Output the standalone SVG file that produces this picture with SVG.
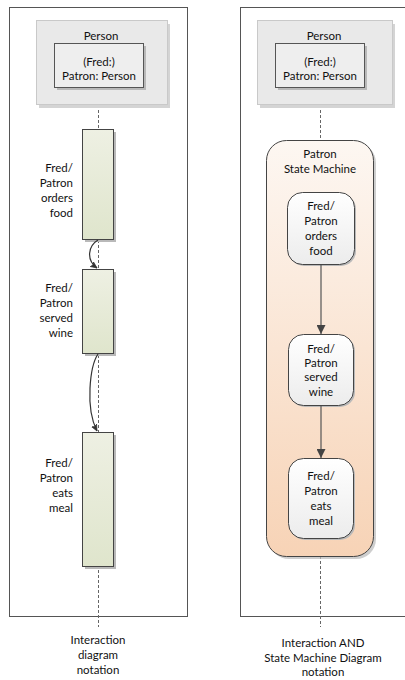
<svg xmlns="http://www.w3.org/2000/svg" width="405" height="680" viewBox="0 0 405 680">
  <defs>
    <linearGradient id="barFill" x1="0" y1="0" x2="0" y2="1">
      <stop offset="0" stop-color="#eef0e3"/>
      <stop offset="1" stop-color="#dfe5cc"/>
    </linearGradient>
    <linearGradient id="smFill" x1="0" y1="0" x2="0" y2="1">
      <stop offset="0" stop-color="#fdf7f2"/>
      <stop offset="1" stop-color="#f7d3b6"/>
    </linearGradient>
    <linearGradient id="stateFill" x1="0" y1="0" x2="0" y2="1">
      <stop offset="0" stop-color="#ffffff"/>
      <stop offset="1" stop-color="#ececec"/>
    </linearGradient>
    <marker id="arrowOpen" viewBox="0 0 10 10" refX="9" refY="5" markerWidth="7" markerHeight="7" orient="auto" markerUnits="userSpaceOnUse">
      <path d="M0,1 L9,5 L0,9 L2,5 Z" fill="#333" stroke="#333" stroke-width="1"/>
    </marker>
    <marker id="arrowSolid" viewBox="0 0 10 10" refX="10" refY="5" markerWidth="9" markerHeight="9" orient="auto" markerUnits="userSpaceOnUse">
      <path d="M0,0 L10,5 L0,10 Z" fill="#444"/>
    </marker>
  </defs>
  <style>
    text { font-family: "Lato", "Liberation Sans", sans-serif; font-size: 11.5px; fill: #111; }
    .mid { text-anchor: middle; }
    .end { text-anchor: end; }
    .frame { fill: #ffffff; stroke: #555; stroke-width: 1; }
    .outer { fill: #e9e9e9; stroke: #c9c9c9; stroke-width: 1; }
    .outerShadow { fill: #d4d4d4; }
    .inner { fill: #eeeeee; stroke: #555; stroke-width: 1; }
    .shadow { fill: #b9b9b9; }
    .lifeline { stroke: #666; stroke-width: 1; stroke-dasharray: 3 2; fill: none; }
    .bar { fill: url(#barFill); stroke: #444; stroke-width: 1; }
    .msg { fill: none; stroke: #333; stroke-width: 1.2; }
    .sm { fill: url(#smFill); stroke: #444; stroke-width: 1; }
    .state { fill: url(#stateFill); stroke: #444; stroke-width: 1; }
    .trans { stroke: #555; stroke-width: 1.2; fill: none; }
  </style>

  <!-- frames -->
  <rect class="frame" x="9.5" y="7.5" width="178" height="609"/>
  <rect class="frame" x="240.5" y="7.5" width="170" height="609"/>

  <!-- lifelines -->
  <g id="lifelines">
    <line class="lifeline" x1="98.5" y1="105" x2="98.5" y2="627"/>
    <line class="lifeline" x1="320.5" y1="105" x2="320.5" y2="140"/>
    <line class="lifeline" x1="320.5" y1="556" x2="320.5" y2="627"/>
  </g>

  <!-- left: lifeline head -->
  <g id="person-left">
    <rect class="outerShadow" x="39" y="24" width="131" height="84"/>
    <rect class="outer" x="36.5" y="20.5" width="131" height="84"/>
    <text class="mid" x="101" y="40">Person</text>
    <rect class="shadow" x="57" y="46" width="89" height="44"/>
    <rect class="inner" x="54.5" y="43.5" width="89" height="44"/>
    <text class="mid" x="99" y="66">(Fred:)</text>
    <text class="mid" x="99" y="80">Patron: Person</text>
  </g>

  <!-- left: activations -->
  <g id="act-orders">
    <rect class="shadow" x="85" y="132" width="31" height="110"/>
    <rect class="bar" x="82.5" y="129.5" width="31" height="110"/>
    <text class="end" x="73" y="172">Fred/</text>
    <text class="end" x="73" y="187">Patron</text>
    <text class="end" x="73" y="202">orders</text>
    <text class="end" x="73" y="217">food</text>
  </g>
  <g id="act-served">
    <rect class="shadow" x="85" y="272" width="31" height="84"/>
    <rect class="bar" x="82.5" y="269.5" width="31" height="84"/>
    <text class="end" x="73" y="292">Fred/</text>
    <text class="end" x="73" y="307">Patron</text>
    <text class="end" x="73" y="322">served</text>
    <text class="end" x="73" y="337">wine</text>
  </g>
  <g id="act-eats">
    <rect class="shadow" x="85" y="435" width="31" height="134"/>
    <rect class="bar" x="82.5" y="432.5" width="31" height="134"/>
    <text class="end" x="73" y="467">Fred/</text>
    <text class="end" x="73" y="482">Patron</text>
    <text class="end" x="73" y="497">eats</text>
    <text class="end" x="73" y="512">meal</text>
  </g>

  <!-- left: messages -->
  <g id="messages">
    <path class="msg" d="M98,240 C88,246 86,260 97,268" marker-end="url(#arrowOpen)"/>
    <path class="msg" d="M98,354 C90,366 85,408 97,431" marker-end="url(#arrowOpen)"/>
  </g>

  <!-- right: lifeline head -->
  <g id="person-right">
    <rect class="outerShadow" x="260" y="24" width="135" height="84"/>
    <rect class="outer" x="257.5" y="20.5" width="135" height="84"/>
    <text class="mid" x="324" y="40">Person</text>
    <rect class="shadow" x="278" y="46" width="89" height="44"/>
    <rect class="inner" x="275.5" y="43.5" width="89" height="44"/>
    <text class="mid" x="320" y="66">(Fred:)</text>
    <text class="mid" x="320" y="80">Patron: Person</text>
  </g>

  <!-- right: state machine -->
  <g id="state-machine">
    <rect class="shadow" x="269" y="143" width="107" height="416" rx="20" opacity="0.7"/>
    <rect class="sm" x="266.5" y="140.5" width="107" height="416" rx="20"/>
    <text class="mid" x="320" y="158">Patron</text>
    <text class="mid" x="320" y="173">State Machine</text>
  </g>

  <g id="state-orders">
    <rect class="shadow" x="289" y="194" width="67" height="72" rx="15"/>
    <rect class="state" x="287.5" y="192.5" width="67" height="72" rx="15"/>
    <text class="mid" x="321" y="210">Fred/</text>
    <text class="mid" x="321" y="225">Patron</text>
    <text class="mid" x="321" y="240">orders</text>
    <text class="mid" x="321" y="255">food</text>
  </g>
  <g id="state-served">
    <rect class="shadow" x="290" y="336" width="65" height="71" rx="15"/>
    <rect class="state" x="288.5" y="334.5" width="65" height="71" rx="15"/>
    <text class="mid" x="321" y="353">Fred/</text>
    <text class="mid" x="321" y="367">Patron</text>
    <text class="mid" x="321" y="381">served</text>
    <text class="mid" x="321" y="396">wine</text>
  </g>
  <g id="state-eats">
    <rect class="shadow" x="290" y="460" width="65" height="80" rx="15"/>
    <rect class="state" x="288.5" y="458.5" width="65" height="80" rx="15"/>
    <text class="mid" x="321" y="480">Fred/</text>
    <text class="mid" x="321" y="495">Patron</text>
    <text class="mid" x="321" y="510">eats</text>
    <text class="mid" x="321" y="525">meal</text>
  </g>

  <!-- right: transitions -->
  <g id="transitions">
    <line class="trans" x1="321" y1="265" x2="321" y2="334" marker-end="url(#arrowSolid)"/>
    <line class="trans" x1="321" y1="406" x2="321" y2="458" marker-end="url(#arrowSolid)"/>
  </g>

  <!-- captions -->
  <g id="captions">
    <text class="mid" x="98" y="644">Interaction</text>
    <text class="mid" x="98" y="659">diagram</text>
    <text class="mid" x="98" y="674">notation</text>
    <text class="mid" x="323" y="647">Interaction AND</text>
    <text class="mid" x="323" y="662">State Machine Diagram</text>
    <text class="mid" x="323" y="676">notation</text>
  </g>
</svg>
